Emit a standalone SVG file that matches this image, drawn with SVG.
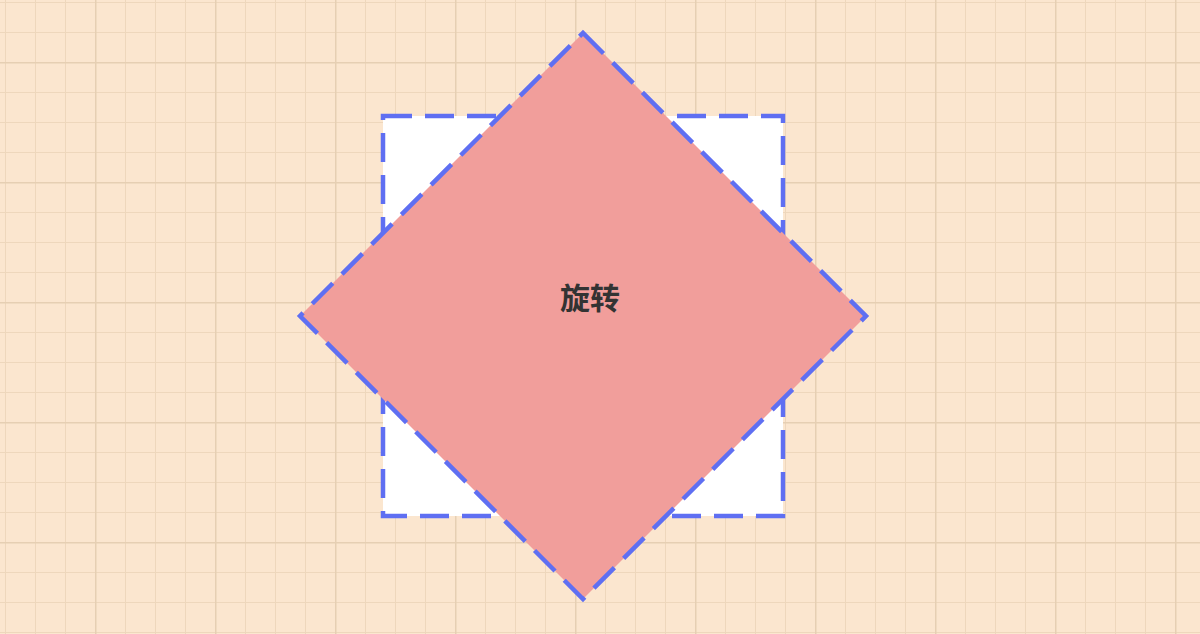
<svg xmlns="http://www.w3.org/2000/svg" width="1200" height="634" viewBox="0 0 1200 634">
<style>
.edge{stroke:#5f6ff2;stroke-width:4.5;stroke-dasharray:29 13;}
.label{font-family:"Noto Sans CJK SC","Noto Sans",sans-serif;font-size:30px;font-weight:bold;fill:#333333;}
</style>
<defs>
<pattern id="minor" x="5" y="2" width="30" height="30" patternUnits="userSpaceOnUse">
<path d="M0 0V30M0 0H30" fill="none" stroke="#eed7bc" stroke-width="2"/>
</pattern>
<pattern id="major" x="95" y="62" width="120" height="120" patternUnits="userSpaceOnUse">
<path d="M0 0V120M0 0H120" fill="none" stroke="#e6cfb3" stroke-width="3"/>
</pattern>
</defs>
<rect width="1200" height="634" fill="#fbe6cf"/>
<rect width="1200" height="634" fill="url(#minor)"/>
<rect width="1200" height="634" fill="url(#major)"/>
<g id="original">
<rect class="edge" x="383" y="116" width="400" height="400" fill="#ffffff"/>
</g>
<g id="rotated">
<polygon class="edge" points="583,33 866,316 583,599 300,316" fill="#f19e9b"/>
<text class="label" x="590" y="309" text-anchor="middle">旋转</text>
</g>
</svg>
